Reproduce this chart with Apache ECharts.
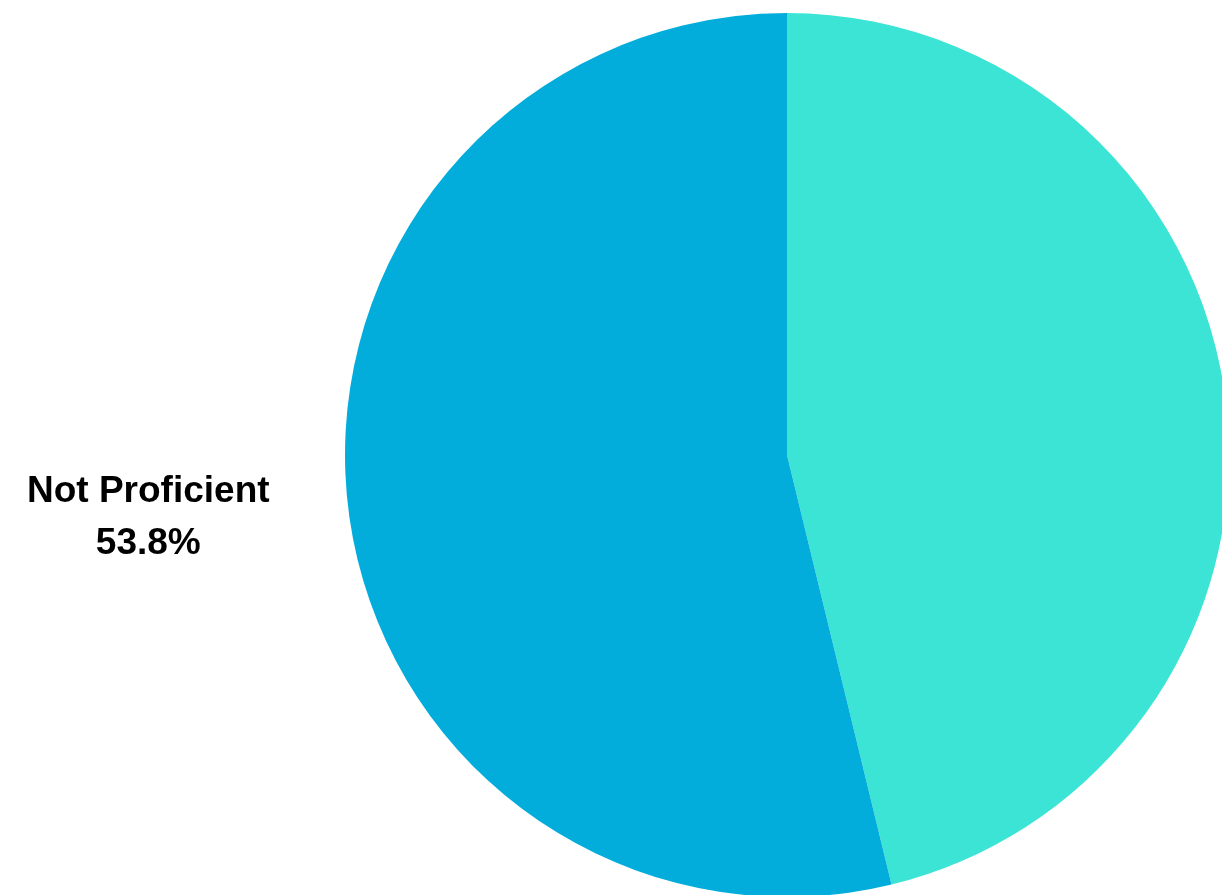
<!DOCTYPE html>
<html>
<head>
<meta charset="utf-8">
<title>Proficiency</title>
<script src="https://cdn.jsdelivr.net/npm/echarts@6/dist/echarts.min.js"></script>
<style>
  html, body { margin: 0; padding: 0; background: #ffffff; }
  #chart { width: 1222px; height: 895px; }
</style>
</head>
<body>
<div id="chart"></div>
<script>
// Share of students by proficiency status (percent)
const categories = ['Proficient', 'Not Proficient'];
const values = [46.2, 53.8];
const colors = ['#3be4d4', '#02addc'];
const labelled = [false, true];

const chart = echarts.init(document.getElementById('chart'), null, { renderer: 'canvas' });

const data = categories.map((name, i) => ({
  name,
  value: values[i],
  itemStyle: { color: colors[i] },
  label: { show: labelled[i] }
}));

chart.setOption({
  animation: false,
  backgroundColor: '#ffffff',
  series: [{
    type: 'pie',
    center: [787, 455],
    radius: 442,
    startAngle: 90,
    clockwise: true,
    avoidLabelOverlap: false,
    itemStyle: { borderWidth: 0 },
    label: {
      position: 'outside',
      alignTo: 'edge',
      edgeDistance: 27,
      formatter: (p) => p.name + '\n' + p.value.toFixed(1) + '%',
      fontFamily: 'Liberation Sans, Arial, sans-serif',
      fontWeight: 'bold',
      fontSize: 37,
      lineHeight: 52,
      color: '#000000'
    },
    labelLine: { show: false, length: 86, length2: 0 },
    labelLayout: (p) => ({
      x: p.labelRect.x + p.labelRect.width / 2,
      align: 'center'
    }),
    data
  }]
});
</script>
</body>
</html>
